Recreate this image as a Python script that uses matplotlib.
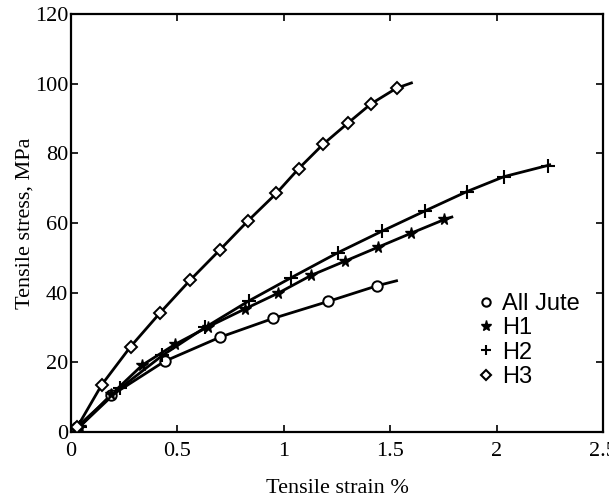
import matplotlib
matplotlib.use("Agg")
import matplotlib.pyplot as plt
from matplotlib.lines import Line2D

# ---- data ----
jute_x = [0.03, 0.19, 0.44, 0.70, 0.95, 1.21, 1.44]
jute_y = [1.5, 10.5, 20.3, 27.2, 32.6, 37.5, 42.0]
jute_end = (1.53, 43.4)

h1_x = [0.04, 0.19, 0.335, 0.49, 0.645, 0.82, 0.975, 1.13, 1.29, 1.445, 1.60, 1.755]
h1_y = [1.5, 10.8, 19.2, 25.2, 30.2, 35.4, 39.9, 45.0, 49.1, 53.1, 57.1, 61.0]
h1_end = (1.79, 61.7)

h2_x = [0.04, 0.23, 0.43, 0.63, 0.835, 1.035, 1.255, 1.46, 1.665, 1.86, 2.035, 2.24]
h2_y = [1.5, 12.5, 22.0, 30.0, 37.6, 44.3, 51.5, 57.6, 63.5, 69.0, 73.3, 76.5]
h2_end = (2.25, 76.7)

h3_x = [0.03, 0.145, 0.28, 0.42, 0.56, 0.70, 0.83, 0.965, 1.07, 1.185, 1.30, 1.41, 1.53]
h3_y = [1.5, 13.6, 24.5, 34.3, 43.6, 52.3, 60.5, 68.5, 75.6, 82.6, 88.6, 94.2, 98.7]
h3_end = (1.60, 100.2)

labels = ["All Jute", "H1", "H2", "H3"]
x_ticks = [0, 0.5, 1, 1.5, 2, 2.5]
x_ticklabels = ["0", "0.5", "1", "1.5", "2", "2.5"]
y_ticks = [0, 20, 40, 60, 80, 100, 120]

fig = plt.figure(figsize=(6.09, 4.99), dpi=100)
ax = fig.add_axes([0.1166, 0.1343, 0.8734, 0.8377])

series = [
    (jute_x, jute_y, jute_end, dict(marker="o", ms=7.5, mew=1.4, mfc="white")),
    (h1_x, h1_y, h1_end, dict(marker="*", ms=8.5, mew=1.0, mfc="black")),
    (h2_x, h2_y, h2_end, dict(marker="+", ms=10, mew=1.5, mfc="black")),
    (h3_x, h3_y, h3_end, dict(marker="D", ms=6, mew=1.4, mfc="white")),
]
for xs, ys, end, mk in series:
    lx = list(xs) + [end[0]]
    ly = list(ys) + [end[1]]
    ax.plot(lx, ly, color="black", lw=2.0, zorder=2)
    ax.plot(xs, ys, linestyle="none", color="black", mec="black", zorder=3, **mk)

ax.set_xlim(0, 2.5)
ax.set_ylim(0, 120)
ax.set_xticks(x_ticks)
ax.set_xticklabels(x_ticklabels)
ax.set_yticks(y_ticks)
for s in ax.spines.values():
    s.set_linewidth(1.6)
ax.tick_params(direction="in", top=True, right=True, length=5, width=1.2,
               labelsize=16)
ax.tick_params(axis="x", pad=7)
ax.tick_params(axis="y", pad=2)
for lab in ax.get_xticklabels() + ax.get_yticklabels():
    lab.set_fontfamily("Liberation Serif")

ax.set_xlabel("Tensile strain %", fontsize=16, family="Liberation Serif")
ax.set_ylabel("Tensile stress, MPa", fontsize=16, family="Liberation Serif")
ax.xaxis.set_label_coords(0.5, -0.113)
ax.yaxis.set_label_coords(-0.068, 0.5)

handles = [
    Line2D([], [], linestyle="none", marker="o", ms=6, mfc="white", mec="black", mew=1.5, color="black"),
    Line2D([], [], linestyle="none", marker="*", ms=8, mfc="black", mec="black", mew=1.0, color="black"),
    Line2D([], [], linestyle="none", marker="+", ms=7, mec="black", mew=1.5, color="black"),
    Line2D([], [], linestyle="none", marker="D", ms=5, mfc="white", mec="black", mew=1.5, color="black"),
]
leg = ax.legend(handles, labels, loc="upper left", bbox_to_anchor=(0.755, 0.446),
                bbox_transform=fig.transFigure, frameon=False,
                prop={"family": "Liberation Sans", "size": 17},
                handlelength=0.8, handletextpad=0.3, labelspacing=0.1,
                borderpad=0.2)

fig.savefig("out.png", dpi=100)
